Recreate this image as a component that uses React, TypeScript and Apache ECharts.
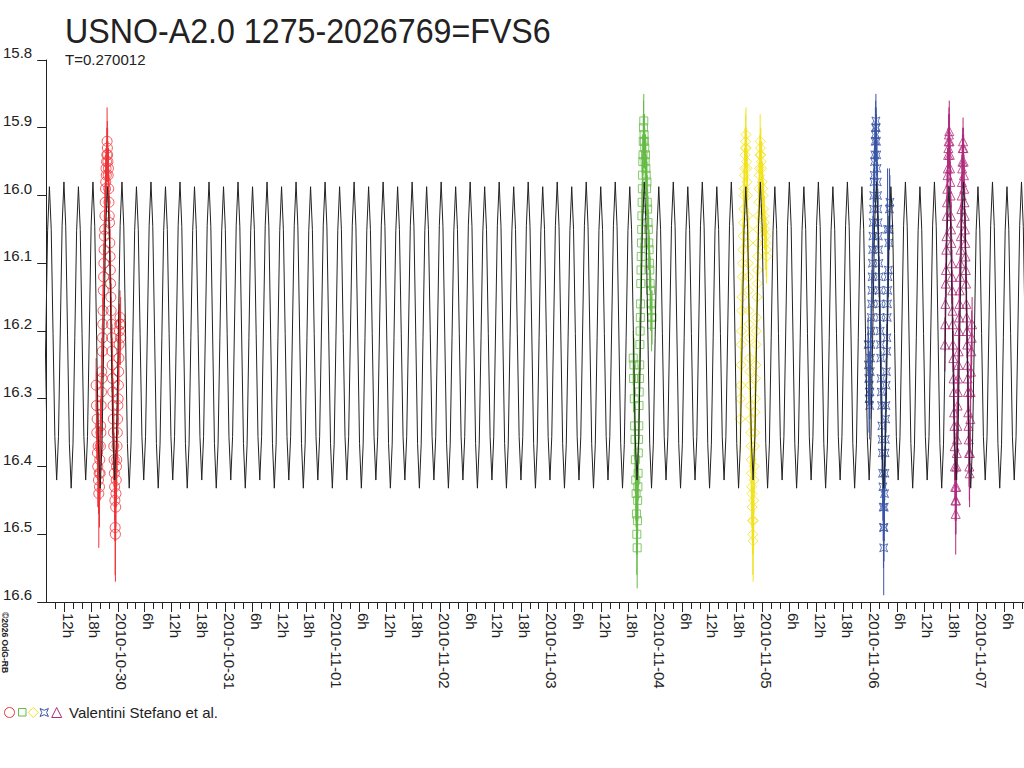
import React, { useEffect, useRef } from "react";
import * as echarts from "echarts";

// ---------- texts ----------
const TITLE = "USNO-A2.0 1275-2026769=FVS6";
const SUBTITLE = "T=0.270012";
const OBSERVER = "Valentini Stefano et al.";
const COPYRIGHT = "©2026 OdG-RB";

// ---------- axes (x in hours since 2010-10-29 00:00 UT) ----------
const X_MIN = 8;
const X_MAX = 226.37;
const Y_MIN = 15.8;
const Y_MAX = 16.6;
const Y_STEP = 0.1;
const DATE_LABELS = ["2010-10-30", "2010-10-31", "2010-11-01", "2010-11-02", "2010-11-03", "2010-11-04", "2010-11-05", "2010-11-06", "2010-11-07"];
const HOUR_LABELS = ["6h", "12h", "18h"];

// ---------- model light curve (one period) ----------
const PERIOD_DAYS = 0.270012;
const EPOCH_H = 24.92; // taller maximum
const PHASE_CURVE = [15.98, 16.046, 16.206, 16.366, 16.432, 16.367, 16.21, 16.052, 15.987, 16.05, 16.204, 16.356, 16.42, 16.356, 16.2, 16.044];

// ---------- observations: [hours after base day, mag, error] ----------
const RED_BASE = 0; // 2010-10-29
const RED_OBS = [
  [19.15, 16.28, 0.04], [19.22, 16.31, 0.05], [19.3, 16.35, 0.04], [19.38, 16.33, 0.05], [19.45, 16.38, 0.04], [19.52, 16.4, 0.06], [19.6, 16.37, 0.05], [19.68, 16.42, 0.05], [19.75, 16.44, 0.08], [19.82, 16.41, 0.05], [19.9, 16.43, 0.06], [19.97, 16.39, 0.05], [20.04, 16.41, 0.04],
  [20.1, 16.37, 0.05], [20.16, 16.34, 0.04], [20.22, 16.35, 0.05], [20.28, 16.31, 0.04], [20.34, 16.29, 0.04], [20.4, 16.26, 0.05], [20.46, 16.27, 0.04], [20.52, 16.23, 0.04], [20.58, 16.21, 0.03], [20.64, 16.19, 0.04], [20.7, 16.17, 0.04], [20.76, 16.14, 0.03], [20.82, 16.12, 0.04], [20.88, 16.1, 0.03], [20.94, 16.08, 0.04], [21.0, 16.06, 0.03], [21.06, 16.05, 0.03], [21.12, 16.03, 0.04], [21.18, 16.01, 0.03], [21.24, 15.99, 0.03], [21.3, 15.98, 0.04], [21.36, 15.96, 0.03], [21.42, 15.97, 0.04], [21.48, 15.95, 0.03], [21.54, 15.94, 0.04], [21.6, 15.92, 0.05], [21.66, 15.93, 0.04],
  [21.72, 15.94, 0.04], [21.78, 15.95, 0.03], [21.84, 15.97, 0.04], [21.9, 15.96, 0.03], [21.96, 15.99, 0.03], [22.02, 16.01, 0.04], [22.08, 16.03, 0.03], [22.14, 16.04, 0.04], [22.2, 16.07, 0.03], [22.26, 16.09, 0.04], [22.32, 16.11, 0.03], [22.38, 16.13, 0.04], [22.44, 16.15, 0.03], [22.5, 16.17, 0.04], [22.56, 16.19, 0.04], [22.62, 16.21, 0.03], [22.68, 16.23, 0.04], [22.74, 16.25, 0.04], [22.8, 16.27, 0.05], [22.86, 16.29, 0.04], [22.92, 16.31, 0.04], [22.98, 16.33, 0.05], [23.04, 16.35, 0.04], [23.1, 16.37, 0.05], [23.16, 16.39, 0.04], [23.22, 16.41, 0.05], [23.28, 16.43, 0.05], [23.34, 16.45, 0.06], [23.4, 16.49, 0.07], [23.46, 16.5, 0.07],
  [23.52, 16.46, 0.05], [23.58, 16.44, 0.05], [23.64, 16.42, 0.04], [23.7, 16.4, 0.05], [23.76, 16.39, 0.04], [23.82, 16.37, 0.04], [23.88, 16.35, 0.04], [23.94, 16.33, 0.05], [24.0, 16.31, 0.04], [24.06, 16.3, 0.04], [24.12, 16.28, 0.04], [24.18, 16.26, 0.03], [24.24, 16.24, 0.04], [24.3, 16.22, 0.03], [24.36, 16.2, 0.04], [24.42, 16.19, 0.03], [24.48, 16.18, 0.04], [24.55, 16.21, 0.04], [24.62, 16.19, 0.04],
];

const GREEN_BASE = 120; // 2010-11-03
const GREEN_OBS = [
  [19.1, 16.24, 0.04], [19.18, 16.27, 0.05], [19.26, 16.25, 0.04], [19.34, 16.3, 0.05], [19.42, 16.34, 0.05], [19.5, 16.36, 0.05], [19.58, 16.39, 0.05], [19.66, 16.42, 0.06], [19.74, 16.44, 0.05], [19.82, 16.47, 0.06], [19.9, 16.5, 0.06], [19.98, 16.52, 0.06],
  [20.04, 16.48, 0.05], [20.09, 16.45, 0.05], [20.14, 16.43, 0.05], [20.19, 16.41, 0.04], [20.24, 16.38, 0.05], [20.29, 16.36, 0.04], [20.34, 16.34, 0.04], [20.39, 16.31, 0.05], [20.44, 16.29, 0.04], [20.49, 16.27, 0.04], [20.54, 16.25, 0.04], [20.59, 16.22, 0.04], [20.64, 16.2, 0.04], [20.69, 16.18, 0.03], [20.74, 16.16, 0.04], [20.79, 16.13, 0.03], [20.84, 16.11, 0.04], [20.89, 16.09, 0.03], [20.94, 16.07, 0.04], [20.99, 16.05, 0.03], [21.04, 16.03, 0.04], [21.09, 16.01, 0.03], [21.14, 15.99, 0.04], [21.19, 15.97, 0.03], [21.24, 15.95, 0.04], [21.29, 15.94, 0.03], [21.34, 15.92, 0.04], [21.4, 15.9, 0.04], [21.46, 15.89, 0.04],
  [21.52, 15.91, 0.03], [21.6, 15.92, 0.04], [21.68, 15.93, 0.03], [21.76, 15.95, 0.04], [21.84, 15.94, 0.03], [21.92, 15.96, 0.04], [22.0, 15.97, 0.03], [22.08, 15.99, 0.04], [22.16, 15.98, 0.03], [22.24, 16.01, 0.04], [22.32, 16.02, 0.03], [22.4, 16.04, 0.04], [22.48, 16.05, 0.03], [22.56, 16.07, 0.04], [22.64, 16.08, 0.03], [22.72, 16.1, 0.04], [22.8, 16.11, 0.03], [22.88, 16.13, 0.04], [22.96, 16.14, 0.03], [23.04, 16.16, 0.04], [23.12, 16.17, 0.03], [23.2, 16.19, 0.04], [23.3, 16.18, 0.04],
];

const YELLOW_BASE = 144; // 2010-11-04
const YELLOW_OBS = [
  [19.0, 16.33, 0.05], [19.06, 16.3, 0.04], [19.12, 16.28, 0.05], [19.18, 16.25, 0.04], [19.24, 16.22, 0.04], [19.3, 16.2, 0.04], [19.36, 16.17, 0.04], [19.42, 16.15, 0.03], [19.48, 16.12, 0.04], [19.54, 16.1, 0.03], [19.6, 16.08, 0.04], [19.66, 16.06, 0.03], [19.72, 16.04, 0.04], [19.78, 16.02, 0.03], [19.84, 16.0, 0.04], [19.9, 15.99, 0.03], [19.96, 15.97, 0.04], [20.02, 15.96, 0.03], [20.08, 15.94, 0.04], [20.14, 15.93, 0.03], [20.2, 15.92, 0.04], [20.28, 15.91, 0.04], [20.36, 15.93, 0.03], [20.44, 15.95, 0.04],
  [20.5, 15.96, 0.03], [20.55, 15.98, 0.04], [20.6, 16.0, 0.03], [20.65, 16.03, 0.04], [20.7, 16.05, 0.03], [20.75, 16.07, 0.04], [20.8, 16.1, 0.04], [20.85, 16.12, 0.03], [20.9, 16.14, 0.04], [20.95, 16.17, 0.04], [21.0, 16.19, 0.03], [21.05, 16.21, 0.04], [21.1, 16.24, 0.04], [21.15, 16.26, 0.04], [21.2, 16.28, 0.05], [21.25, 16.31, 0.04], [21.3, 16.33, 0.04], [21.35, 16.35, 0.05], [21.4, 16.37, 0.04], [21.45, 16.39, 0.05], [21.5, 16.41, 0.04], [21.55, 16.43, 0.05], [21.6, 16.44, 0.05], [21.66, 16.46, 0.05], [21.72, 16.48, 0.05], [21.8, 16.5, 0.06], [21.88, 16.51, 0.06],
  [21.95, 16.48, 0.05], [22.01, 16.45, 0.05], [22.07, 16.42, 0.05], [22.13, 16.4, 0.04], [22.19, 16.37, 0.04], [22.25, 16.35, 0.05], [22.31, 16.32, 0.04], [22.37, 16.3, 0.04], [22.43, 16.27, 0.04], [22.49, 16.25, 0.04], [22.55, 16.22, 0.03], [22.61, 16.2, 0.04], [22.67, 16.18, 0.03], [22.73, 16.15, 0.04], [22.79, 16.13, 0.03], [22.85, 16.11, 0.04], [22.91, 16.09, 0.03], [22.97, 16.07, 0.04], [23.03, 16.05, 0.03], [23.09, 16.03, 0.04], [23.15, 16.01, 0.03], [23.21, 15.99, 0.04], [23.27, 15.97, 0.03], [23.33, 15.96, 0.04], [23.39, 15.94, 0.03], [23.45, 15.92, 0.04], [23.51, 15.93, 0.03],
  [23.6, 15.94, 0.04], [23.7, 15.95, 0.03], [23.8, 15.96, 0.04], [23.9, 15.98, 0.03], [24.0, 15.99, 0.04], [24.1, 16.0, 0.03], [24.2, 16.02, 0.04], [24.3, 16.03, 0.03], [24.4, 16.04, 0.04], [24.5, 16.05, 0.03], [24.6, 16.07, 0.04], [24.7, 16.06, 0.03], [24.8, 16.08, 0.04], [24.9, 16.09, 0.04],
];

const BLUE_BASE = 168; // 2010-11-05
const BLUE_OBS = [
  [23.55, 16.22, 0.04], [23.62, 16.25, 0.05], [23.69, 16.27, 0.04], [23.76, 16.3, 0.05], [23.83, 16.28, 0.05], [23.9, 16.31, 0.05], [23.97, 16.29, 0.04], [24.04, 16.26, 0.05],
  [24.1, 16.24, 0.04], [24.16, 16.22, 0.04], [24.22, 16.2, 0.04], [24.28, 16.18, 0.03], [24.34, 16.16, 0.04], [24.4, 16.14, 0.03], [24.46, 16.12, 0.04], [24.52, 16.1, 0.03], [24.58, 16.08, 0.04], [24.64, 16.06, 0.03], [24.7, 16.04, 0.04], [24.76, 16.02, 0.03], [24.82, 16.0, 0.04], [24.88, 15.98, 0.03], [24.94, 15.97, 0.04], [25.0, 15.95, 0.03], [25.06, 15.94, 0.04], [25.12, 15.92, 0.03], [25.18, 15.91, 0.04], [25.24, 15.9, 0.04], [25.3, 15.89, 0.04],
  [25.36, 15.9, 0.03], [25.42, 15.92, 0.04], [25.48, 15.94, 0.03], [25.54, 15.96, 0.04], [25.6, 15.98, 0.03], [25.66, 16.0, 0.04], [25.72, 16.02, 0.03], [25.78, 16.04, 0.04], [25.84, 16.06, 0.03], [25.9, 16.08, 0.04], [25.96, 16.1, 0.04], [26.02, 16.12, 0.03], [26.08, 16.14, 0.04], [26.14, 16.16, 0.04], [26.2, 16.18, 0.04], [26.26, 16.2, 0.04], [26.32, 16.22, 0.04], [26.38, 16.24, 0.05], [26.44, 16.27, 0.04], [26.5, 16.29, 0.05], [26.56, 16.31, 0.04], [26.62, 16.34, 0.05], [26.68, 16.36, 0.05], [26.74, 16.38, 0.04], [26.8, 16.41, 0.05], [26.86, 16.43, 0.05], [26.92, 16.46, 0.05], [26.98, 16.49, 0.06], [27.04, 16.52, 0.07],
  [27.1, 16.49, 0.05], [27.16, 16.46, 0.05], [27.22, 16.44, 0.05], [27.28, 16.41, 0.04], [27.34, 16.38, 0.05], [27.4, 16.36, 0.04], [27.46, 16.33, 0.04], [27.52, 16.31, 0.04], [27.58, 16.28, 0.04], [27.64, 16.26, 0.04], [27.7, 16.23, 0.04], [27.76, 16.21, 0.03], [27.82, 16.18, 0.04], [27.88, 16.16, 0.03], [27.9, 16.05, 0.09], [27.94, 16.14, 0.04], [28.0, 16.12, 0.03], [28.08, 16.11, 0.04], [28.16, 16.07, 0.04], [28.24, 16.05, 0.03], [28.32, 16.02, 0.06], [28.42, 16.01, 0.04],
];

const MAGENTA_BASE = 192; // 2010-11-06
const MAGENTA_OBS = [
  [16.7, 16.22, 0.04], [16.76, 16.19, 0.04], [16.82, 16.16, 0.04], [16.88, 16.13, 0.03], [16.94, 16.11, 0.04], [17.0, 16.08, 0.03], [17.06, 16.06, 0.04], [17.12, 16.03, 0.03], [17.18, 16.01, 0.04], [17.24, 15.99, 0.03], [17.3, 15.97, 0.04], [17.36, 15.96, 0.03], [17.42, 15.94, 0.04], [17.48, 15.93, 0.03], [17.54, 15.92, 0.04], [17.6, 15.91, 0.04], [17.68, 15.905, 0.045],
  [17.74, 15.92, 0.04], [17.8, 15.94, 0.03], [17.86, 15.96, 0.04], [17.92, 15.98, 0.03], [17.98, 16.0, 0.04], [18.04, 16.03, 0.03], [18.1, 16.05, 0.04], [18.16, 16.07, 0.03], [18.22, 16.1, 0.04], [18.28, 16.12, 0.04], [18.34, 16.14, 0.03], [18.4, 16.17, 0.04], [18.46, 16.19, 0.04], [18.52, 16.22, 0.04], [18.58, 16.24, 0.04], [18.64, 16.27, 0.05], [18.7, 16.29, 0.04], [18.76, 16.32, 0.05], [18.82, 16.34, 0.04], [18.88, 16.37, 0.05], [18.94, 16.4, 0.05], [19.0, 16.43, 0.05], [19.06, 16.45, 0.05], [19.12, 16.47, 0.06],
  [19.18, 16.45, 0.05], [19.24, 16.43, 0.05], [19.3, 16.4, 0.05], [19.36, 16.38, 0.04], [19.42, 16.36, 0.05], [19.48, 16.34, 0.04], [19.54, 16.31, 0.04], [19.6, 16.29, 0.04], [19.66, 16.27, 0.04], [19.72, 16.25, 0.04], [19.78, 16.23, 0.04], [19.84, 16.2, 0.03], [19.9, 16.18, 0.04], [19.96, 16.16, 0.03], [20.02, 16.14, 0.04], [20.08, 16.12, 0.03], [20.14, 16.1, 0.04], [20.2, 16.08, 0.03], [20.26, 16.06, 0.04], [20.32, 16.04, 0.03], [20.38, 16.02, 0.04], [20.44, 16.0, 0.03], [20.5, 15.98, 0.04], [20.56, 15.96, 0.03], [20.62, 15.95, 0.04], [20.68, 15.93, 0.03], [20.76, 15.92, 0.035],
  [20.84, 15.93, 0.03], [20.9, 15.95, 0.04], [20.96, 15.97, 0.03], [21.02, 15.99, 0.04], [21.08, 16.01, 0.03], [21.14, 16.03, 0.04], [21.2, 16.05, 0.03], [21.26, 16.07, 0.04], [21.32, 16.09, 0.04], [21.38, 16.11, 0.03], [21.44, 16.13, 0.04], [21.5, 16.16, 0.04], [21.56, 16.18, 0.04], [21.62, 16.2, 0.04], [21.68, 16.22, 0.04], [21.74, 16.25, 0.04], [21.8, 16.27, 0.05], [21.86, 16.29, 0.04], [21.92, 16.32, 0.05], [21.98, 16.34, 0.04], [22.04, 16.36, 0.05], [22.1, 16.38, 0.05], [22.16, 16.4, 0.05], [22.22, 16.41, 0.05],
  [22.3, 16.38, 0.04], [22.38, 16.33, 0.05], [22.46, 16.29, 0.04], [22.54, 16.26, 0.04], [22.62, 16.23, 0.04], [22.7, 16.21, 0.04], [22.78, 16.19, 0.04],
];

const RED = "#ee3338";
const GREEN = "#66bb46";
const YELLOW = "#f2e21e";
const BLUE = "#3a55a5";
const MAGENTA = "#b02c7c";
const INK = "#222222";
const FONT = "'Liberation Sans', Arial, sans-serif";

const STAR_PATH = "path://M0,0 L5,2.2 L10,0 L7.8,5 L10,10 L5,7.8 L0,10 L2.2,5 Z";

function obsSeries(name: string, base: number, obs: number[][], color: string, symbol: string, size: number) {
  const pts = obs.map((o) => [base + o[0], o[1], o[2]]);
  return [
    {
      name: name + "-err",
      type: "custom",
      data: pts,
      encode: { x: 0, y: 1 },
      clip: true,
      silent: true,
      z: 2,
      renderItem: (_p: any, api: any) => {
        const x = api.value(0);
        const m = api.value(1);
        const e = api.value(2);
        const a = api.coord([x, m - e]);
        const b = api.coord([x, m + e]);
        return {
          type: "line",
          shape: { x1: a[0], y1: a[1], x2: b[0], y2: b[1] },
          style: { stroke: color, lineWidth: 1 },
        };
      },
    },
    {
      name,
      type: "scatter",
      data: pts.map((p) => [p[0], p[1]]),
      symbol,
      symbolSize: size,
      silent: true,
      z: 3,
      itemStyle: { color: "rgba(0,0,0,0)", borderColor: color, borderWidth: 1 },
    },
  ];
}

function modelCurve(): number[][] {
  const P = PERIOD_DAYS * 24;
  const n0 = Math.floor((X_MIN - EPOCH_H) / P) - 1;
  const n1 = Math.ceil((X_MAX - EPOCH_H) / P) + 1;
  const out: number[][] = [];
  for (let n = n0; n <= n1; n++) {
    PHASE_CURVE.forEach((m, k) => {
      out.push([EPOCH_H + (n + k / PHASE_CURVE.length) * P, m]);
    });
  }
  return out;
}

function labelValues(): number[] {
  const v: number[] = [];
  for (let d = 0; d <= DATE_LABELS.length; d++) {
    [0, 6, 12, 18].forEach((h) => {
      const x = d * 24 + h;
      if (x > X_MIN && x < X_MAX) v.push(x);
    });
  }
  return v;
}

function minorValues(): number[] {
  const v: number[] = [];
  for (let x = Math.ceil(X_MIN / 2) * 2; x < X_MAX; x += 2) if (x > X_MIN) v.push(x);
  return v;
}

function yValues(): number[] {
  const v: number[] = [];
  for (let i = 0; i <= Math.round((Y_MAX - Y_MIN) / Y_STEP); i++) v.push(+(Y_MIN + i * Y_STEP).toFixed(1));
  return v;
}

export default function App() {
  const ref = useRef<HTMLDivElement>(null);
  useEffect(() => {
    if (!ref.current) return;
    const chart = echarts.init(ref.current, undefined, { renderer: "svg" });
    const labels = labelValues();
    const option: any = {
      animation: false,
      backgroundColor: "#ffffff",
      grid: { left: 45, right: 0, top: 60, bottom: 166, containLabel: false },
      xAxis: [
        {
          type: "value",
          min: X_MIN,
          max: X_MAX,
          position: "bottom",
          axisLine: { show: true, onZero: false, lineStyle: { color: INK, width: 1 } },
          axisTick: { show: true, length: 10, customValues: labels, lineStyle: { color: INK, width: 1 } },
          axisLabel: {
            show: true,
            customValues: labels,
            rotate: -90,
            margin: 11,
            fontSize: 15,
            fontFamily: FONT,
            color: INK,
            verticalAlign: "bottom",
            lineHeight: 8,
            formatter: (val: number) => {
              const v = Math.round(val);
              const d = Math.floor(v / 24);
              const h = v % 24;
              if (h === 0) return DATE_LABELS[d - 1] || "";
              return HOUR_LABELS[h / 6 - 1];
            },
          },
          splitLine: { show: false },
        },
        {
          type: "value",
          min: X_MIN,
          max: X_MAX,
          position: "bottom",
          axisLine: { show: false, onZero: false },
          axisTick: { show: true, length: 7, customValues: minorValues(), lineStyle: { color: INK, width: 1 } },
          axisLabel: { show: false },
          splitLine: { show: false },
        },
      ],
      yAxis: {
        type: "value",
        inverse: true,
        min: Y_MIN,
        max: Y_MAX,
        interval: Y_STEP,
        axisLine: { show: true, onZero: false, lineStyle: { color: INK, width: 1 } },
        axisTick: { show: true, length: 9, customValues: yValues(), lineStyle: { color: INK, width: 1 } },
        axisLabel: {
          customValues: yValues(),
          margin: 14,
          fontSize: 15,
          fontFamily: FONT,
          color: INK,
          verticalAlign: "bottom",
          formatter: (v: number) => v.toFixed(1),
        },
        splitLine: { show: false },
      },
      series: [
        ...obsSeries("red", RED_BASE, RED_OBS, RED, "circle", 10),
        ...obsSeries("green", GREEN_BASE, GREEN_OBS, GREEN, "rect", 8),
        ...obsSeries("yellow", YELLOW_BASE, YELLOW_OBS, YELLOW, "diamond", 10),
        ...obsSeries("blue", BLUE_BASE, BLUE_OBS, BLUE, STAR_PATH, 8),
        ...obsSeries("magenta", MAGENTA_BASE, MAGENTA_OBS, MAGENTA, "triangle", 9),
        {
          name: "model",
          type: "line",
          data: modelCurve(),
          showSymbol: false,
          symbol: "none",
          clip: true,
          silent: true,
          z: 5,
          lineStyle: { color: INK, width: 1 },
        },
      ],
      graphic: [
        {
          type: "text",
          x: 65,
          y: 31,
          scaleX: 0.92,
          style: { text: TITLE, fontSize: 35, fontFamily: FONT, fill: INK, align: "left", verticalAlign: "middle" },
        },
        {
          type: "text",
          x: 65,
          y: 59,
          style: { text: SUBTITLE, fontSize: 15, fontFamily: FONT, fill: INK, align: "left", verticalAlign: "middle" },
        },
        {
          type: "text",
          x: 5,
          y: 612,
          rotation: -Math.PI / 2,
          style: { text: COPYRIGHT, fontSize: 8.5, fontWeight: "bold", fontFamily: FONT, fill: INK, align: "left", verticalAlign: "middle" },
        },
        { type: "circle", shape: { cx: 9.5, cy: 712.5, r: 5 }, style: { fill: "none", stroke: RED, lineWidth: 1 } },
        { type: "rect", shape: { x: 18.5, y: 708.5, width: 7.5, height: 7.5 }, style: { fill: "none", stroke: GREEN, lineWidth: 1 } },
        {
          type: "polygon",
          shape: { points: [[33.3, 707.5], [38.3, 712.5], [33.3, 717.5], [28.3, 712.5]] },
          style: { fill: "none", stroke: YELLOW, lineWidth: 1 },
        },
        {
          type: "polygon",
          shape: { points: [[40, 708.5], [44.2, 710.3], [48.4, 708.5], [46.6, 712.5], [48.4, 716.5], [44.2, 714.7], [40, 716.5], [41.8, 712.5]] },
          style: { fill: "none", stroke: BLUE, lineWidth: 1 },
        },
        {
          type: "polygon",
          shape: { points: [[56.7, 707.5], [61.7, 717.5], [51.7, 717.5]] },
          style: { fill: "none", stroke: MAGENTA, lineWidth: 1 },
        },
        {
          type: "text",
          x: 69,
          y: 712,
          style: { text: OBSERVER, fontSize: 15, fontFamily: FONT, fill: INK, align: "left", verticalAlign: "middle" },
        },
      ],
    };
    chart.setOption(option);
    return () => chart.dispose();
  }, []);
  return <div ref={ref} style={{ position: "absolute", left: 0, top: 0, width: 1024, height: 768, background: "#fff" }} />;
}
